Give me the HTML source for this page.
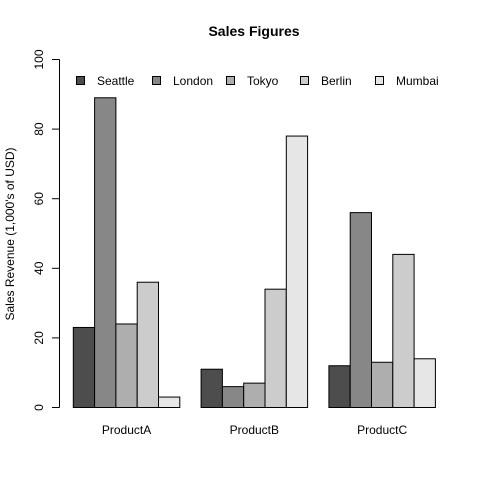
<!DOCTYPE html>
<html><head><meta charset="utf-8"><style>body{margin:0;background:#fff}svg{display:block;font-family:"Liberation Sans",sans-serif}</style></head>
<body>
<svg id="chart" width="480" height="480" viewBox="0 0 480 480" xmlns="http://www.w3.org/2000/svg">
<text x="254" y="36" text-anchor="middle" font-size="14" font-weight="bold">Sales Figures</text>
<text transform="translate(14,234) rotate(-90)" text-anchor="middle" font-size="12">Sales Revenue (1,000's of USD)</text>
<g id="axis"></g><g id="bars"></g><g id="legend"></g><g id="xlabels"></g>
</svg>
<script>
const categories = ["ProductA","ProductB","ProductC"];
const series = ["Seattle","London","Tokyo","Berlin","Mumbai"];
const seattle = [23,11,12];
const london = [89,6,56];
const tokyo = [24,7,13];
const berlin = [36,34,44];
const mumbai = [3,78,14];
const yTicks = [0,20,40,60,80,100];
const colors = ["#4d4d4d","#878787","#aeaeae","#cccccc","#e6e6e6"];
const values = [seattle, london, tokyo, berlin, mumbai];
const NS = "http://www.w3.org/2000/svg";
const y = v => 407.5 - v * 3.48;
const bw = 21.3, x0 = 52;
const xb = (g, s) => x0 + bw * (1 + g * 6 + s);
function mk(tag, attrs, parent, text) {
  const e = document.createElementNS(NS, tag);
  for (const k in attrs) e.setAttribute(k, attrs[k]);
  if (text !== undefined) e.textContent = text;
  parent.appendChild(e); return e;
}
const axis = document.getElementById("axis");
const al = mk("line", {x1:59.5,x2:59.5,y1:y(0),y2:y(100),stroke:"#000"}, axis);


yTicks.forEach(t => {
  const tk = mk("line", {x1:52,x2:59.5,y1:y(t),y2:y(t),stroke:"#000"}, axis);
  
  
  const lb = mk("text", {transform:`translate(43,${y(t)}) rotate(-90)`,"text-anchor":"middle","font-size":"12"}, axis, String(t));
  
  
});
const bars = document.getElementById("bars");
categories.forEach((c, g) => {
  series.forEach((s, i) => {
    const v = values[i][g];
    const r = mk("rect", {x:xb(g,i), y:y(v), width:bw, height:y(0)-y(v), fill:colors[i], stroke:"#000", "stroke-width":"1"}, bars);
    
    
  });
  const t = mk("text", {x:xb(g,2.5), y:434, "text-anchor":"middle","font-size":"12"}, document.getElementById("xlabels"), c);
  
  
});
const legend = document.getElementById("legend");
const lx = [76,152,226,300,375];
series.forEach((s, i) => {
  const b = mk("rect", {x:lx[i]+0.5, y:76.5, width:8, height:8, fill:colors[i], stroke:"#000"}, legend);
  
  
  const t = mk("text", {x:lx[i]+21, y:85, "font-size":"12"}, legend, s);
  
  
});
</script>
</body></html>
